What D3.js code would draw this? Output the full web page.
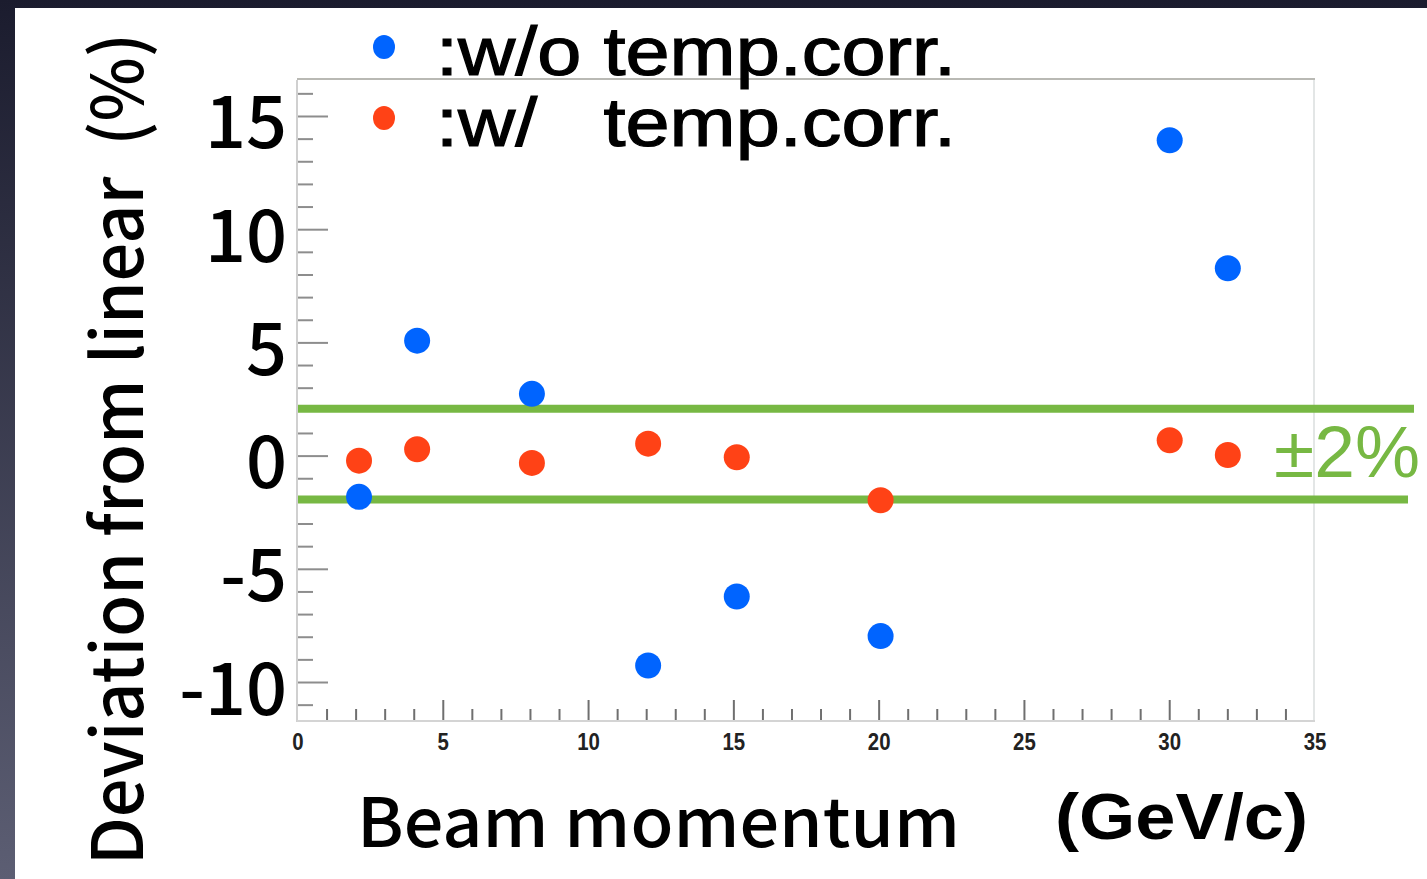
<!DOCTYPE html>
<html>
<head>
<meta charset="utf-8">
<script src="https://cdn.jsdelivr.net/npm/d3@7"></script>
<style>
  body { margin: 0; background: #1e1f33; }
  svg { display: block; }
</style>
</head>
<body>
<script>
// momenta (GeV/c) and deviation from linearity (%)
var momenta = [2.1, 4.1, 8.05, 12.05, 15.1, 20.05, 30, 32];
var withoutCorr = [-1.8, 5.1, 2.75, -9.25, -6.2, -7.95, 13.95, 8.3];
var withCorr = [-0.2, 0.3, -0.3, 0.55, -0.05, -1.95, 0.7, 0.05];
var xTicks = [0, 5, 10, 15, 20, 25, 30, 35];
var yTicks = [15, 10, 5, 0, -5, -10];
var band = [2, -2];

var W = 1427, H = 879;
var svg = d3.select("body").append("svg").attr("width", W).attr("height", H);

// slide background: dark edge on the left/top, white page
var grad = svg.append("defs").append("linearGradient").attr("id", "edge")
  .attr("x1", 0).attr("y1", 0).attr("x2", 0).attr("y2", 1);
grad.append("stop").attr("offset", "0%").attr("stop-color", "#1b1c2e");
grad.append("stop").attr("offset", "100%").attr("stop-color", "#5c5e73");
svg.append("rect").attr("width", W).attr("height", H).attr("fill", "url(#edge)");
svg.append("rect").attr("x", 15).attr("y", 8).attr("width", W - 15).attr("height", H - 8).attr("fill", "#fff");

var x = d3.scaleLinear().domain([0, 35]).range([298, 1315]);
var y = d3.scaleLinear().domain([-11.7, 16.7]).range([721, 78]);

// frame
svg.append("line").attr("x1", 297).attr("x2", 1315).attr("y1", 79).attr("y2", 79)
  .attr("stroke", "#b9b9b4").attr("stroke-width", 2);
svg.append("line").attr("x1", 1314).attr("x2", 1314).attr("y1", 80).attr("y2", 721)
  .attr("stroke", "#e3e6e6").attr("stroke-width", 2);
svg.append("line").attr("x1", 297).attr("x2", 297).attr("y1", 80).attr("y2", 722)
  .attr("stroke", "#d0d0d0").attr("stroke-width", 2);
svg.append("line").attr("x1", 297).attr("x2", 1315).attr("y1", 721).attr("y2", 721)
  .attr("stroke", "#d4d4d4").attr("stroke-width", 2);

// y ticks (major every 5, minor every 1)
var yMinor = d3.range(-11, 17);
svg.append("g").selectAll("line").data(yMinor).join("line")
  .attr("x1", 298).attr("x2", d => d % 5 === 0 ? 328 : 313)
  .attr("y1", d => y(d)).attr("y2", d => y(d))
  .attr("stroke", "#8d8d8d").attr("stroke-width", 2);

// x ticks
var xMinor = d3.range(1, 35);
svg.append("g").selectAll("line").data(xMinor).join("line")
  .attr("x1", d => x(d)).attr("x2", d => x(d))
  .attr("y1", 720).attr("y2", d => d % 5 === 0 ? 700 : 709)
  .attr("stroke", "#6f6f6f").attr("stroke-width", 2);

svg.append("g").selectAll("text").data(xTicks).join("text")
  .attr("x", d => x(d)).attr("y", 750)
  .attr("text-anchor", "middle")
  .attr("font-family", "Liberation Sans, Arial, sans-serif")
  .attr("font-weight", "bold").attr("font-size", 24)
  .attr("transform", d => "translate(" + x(d) + ",0) scale(0.85,1) translate(" + (-x(d)) + ",0)")
  .attr("fill", "#222").text(d => d);

svg.append("g").selectAll("text").data(yTicks).join("text")
  .attr("x", 287).attr("y", d => y(d) + 32)
  .attr("text-anchor", "end")
  .attr("font-family", "Noto Sans CJK JP, Noto Sans, sans-serif")
  .attr("font-weight", 500)
  .attr("font-size", 72).attr("fill", "#000").text(d => d);

// +-2% band lines
svg.append("g").selectAll("line").data(band).join("line")
  .attr("x1", 298).attr("x2", (d, i) => i === 0 ? 1414 : 1408)
  .attr("y1", d => y(d) - 2).attr("y2", d => y(d) - 2)
  .attr("stroke", "#77b843").attr("stroke-width", 8);

svg.append("text").attr("x", 1274).attr("y", 477)
  .attr("font-family", "Liberation Sans, Arial, sans-serif")
  .attr("font-size", 72).attr("fill", "#77b843")
  .attr("textLength", 146).attr("lengthAdjust", "spacingAndGlyphs").text("±2%");

// points
svg.append("g").selectAll("circle").data(momenta).join("circle")
  .attr("cx", d => x(d)).attr("cy", (d, i) => y(withoutCorr[i]))
  .attr("r", 13).attr("fill", "#0064ff");
svg.append("g").selectAll("circle").data(momenta).join("circle")
  .attr("cx", d => x(d)).attr("cy", (d, i) => y(withCorr[i]))
  .attr("r", 13).attr("fill", "#ff4216");

// legend
var legend = [{c: "#0064ff", t: ":w/o temp.corr.", y: 47}, {c: "#ff4216", t: ":w/\u00a0\u00a0 temp.corr.", y: 118}];
var lg = svg.append("g").selectAll("g").data(legend).join("g");
lg.append("ellipse").attr("cx", 384).attr("cy", d => d.y).attr("rx", 11).attr("ry", 12).attr("fill", d => d.c);
lg.append("text").attr("x", 436).attr("y", d => d.y + 28)
  .attr("font-family", "Liberation Sans, Arial, sans-serif")
  .attr("font-size", 68).attr("fill", "#000")
  .attr("stroke", "#000").attr("stroke-width", 1.2)
  .attr("textLength", 520).attr("lengthAdjust", "spacingAndGlyphs")
  .attr("xml:space", "preserve").text(d => d.t);

// axis titles
svg.append("text").attr("x", 357).attr("y", 847)
  .attr("font-family", "Noto Sans CJK JP, Noto Sans, sans-serif")
  .attr("font-weight", 500)
  .attr("font-size", 68).attr("fill", "#000")
  .attr("textLength", 603).attr("lengthAdjust", "spacingAndGlyphs").text("Beam momentum");
svg.append("text").attr("x", 1055).attr("y", 839)
  .attr("font-family", "Liberation Sans, Arial, sans-serif")
  .attr("font-weight", "bold").attr("font-size", 64).attr("fill", "#000")
  .attr("textLength", 253).attr("lengthAdjust", "spacingAndGlyphs").text("(GeV/c)");
svg.append("text")
  .attr("transform", "translate(143,865) rotate(-90)")
  .attr("font-family", "Noto Sans CJK JP, Noto Sans, sans-serif")
  .attr("font-weight", 500)
  .attr("font-size", 70).attr("fill", "#000")
  .attr("textLength", 832).attr("lengthAdjust", "spacingAndGlyphs")
  .attr("xml:space", "preserve").text("Deviation from linear  (%)");
</script>
</body>
</html>
